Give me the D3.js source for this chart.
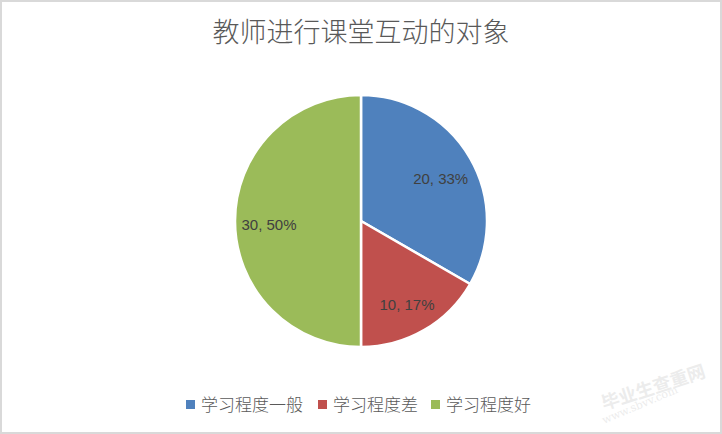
<!DOCTYPE html>
<html>
<head>
<meta charset="utf-8">
<script src="https://cdn.jsdelivr.net/npm/d3@7"></script>
<style>
html,body{margin:0;padding:0;background:#fff;}
svg{display:block;}
</style>
</head>
<body>
<svg id="chart" width="722" height="434"></svg>
<script>
const title = "教师进行课堂互动的对象";
const categories = ["学习程度一般", "学习程度差", "学习程度好"];
const values = [20, 10, 30];
const percentLabels = ["33%", "17%", "50%"];
const colors = ["#4F81BD", "#C0504D", "#9BBB59"];

const W = 722, H = 434;
const svg = d3.select("#chart");

svg.append("rect").attr("x", 1).attr("y", 1).attr("width", W - 2).attr("height", H - 2)
  .attr("fill", "#fff").attr("stroke", "#D9D9D9").attr("stroke-width", 2);

svg.append("text").attr("x", 361).attr("y", 42).attr("text-anchor", "middle")
  .attr("font-family", "'Noto Sans CJK SC', sans-serif").attr("font-size", 27)
  .attr("font-weight", 300)
  .attr("fill", "#595959").text(title);

const cx = 361, cy = 221, r = 126;
const data = categories.map((c, i) => ({cat: c, value: values[i], pct: percentLabels[i], color: colors[i]}));
const pie = d3.pie().value(d => d.value).sort(null);
const arc = d3.arc().innerRadius(0).outerRadius(r);
const labelArc = d3.arc().innerRadius(r * 0.73).outerRadius(r * 0.73);

const g = svg.append("g").attr("transform", `translate(${cx},${cy})`);
const arcs = pie(data);
g.selectAll("path").data(arcs).enter().append("path")
  .attr("d", arc).attr("fill", d => d.data.color)
  .attr("stroke", "#fff").attr("stroke-width", 2.5).attr("stroke-linejoin", "round");

g.selectAll("text.lbl").data(arcs).enter().append("text").attr("class", "lbl")
  .attr("transform", d => { const c = labelArc.centroid(d); return `translate(${c[0]},${c[1]})`; })
  .attr("dy", "0.6em").attr("text-anchor", "middle")
  .attr("font-family", "'Liberation Sans', Arial, sans-serif").attr("font-size", 15)
  .attr("fill", "#404040")
  .text(d => `${d.data.value}, ${d.data.pct}`);

// legend
const legendX = [186, 318, 431];
const lg = svg.append("g");
data.forEach((d, i) => {
  lg.append("rect").attr("x", legendX[i]).attr("y", 400).attr("width", 9).attr("height", 9).attr("fill", d.color);
  lg.append("text").attr("x", legendX[i] + 15).attr("y", 410.5)
    .attr("font-family", "'Noto Sans CJK SC', sans-serif").attr("font-size", 17)
    .attr("font-weight", 300)
    .attr("fill", "#595959").text(d.cat);
});

// watermark
const wm = svg.append("g").attr("opacity", 0.22);
wm.append("text").attr("transform", "translate(604,410) rotate(-18)")
  .attr("font-family", "'Noto Sans CJK SC', sans-serif").attr("font-size", 18).attr("font-weight", "bold")
  .attr("fill", "#AAAAAA").text("毕业生查重网");
wm.append("text").attr("transform", "translate(604,424) rotate(-23)")
  .attr("font-family", "'DejaVu Serif', serif").attr("font-size", 11)
  .attr("fill", "#AAAAAA").text("www.sbvv.com");
</script>
</body>
</html>
